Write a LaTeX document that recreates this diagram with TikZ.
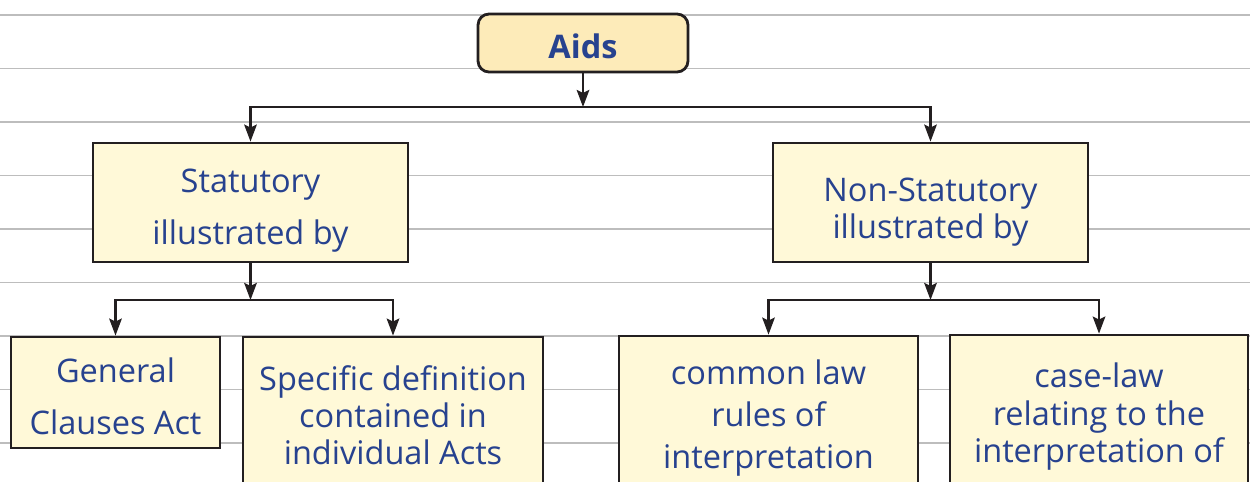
\documentclass[tikz,border=0pt]{standalone}
\usepackage{fontspec}
\setmainfont{Open Sans}
\usepackage{xcolor}
\usepackage{tikz}
\usetikzlibrary{arrows.meta,positioning}

\definecolor{inkblue}{HTML}{27428F}
\definecolor{boxline}{HTML}{231F20}
\definecolor{paleyellow}{HTML}{FFF9D8}
\definecolor{paleorange}{HTML}{FDEBB9}
\definecolor{rulegray}{HTML}{BDBDBD}

\newcommand{\lift}[1]{\rule{0pt}{#1}}

\begin{document}
\begin{tikzpicture}[x=0.02cm,y=-0.02cm,
	box/.style={draw=boxline,line width=1.6pt,fill=paleyellow,text=inkblue,align=center,inner sep=0pt},
	arr/.style={-{Stealth[length=0.34cm,width=0.25cm,inset=0.06cm]},line width=1.5pt,draw=boxline},
	rule/.style={draw=rulegray,line width=0.8pt}]
	\useasboundingbox (0,0) rectangle (1250,481);
	\clip (0,0) rectangle (1250,481);
	% ruled paper
	\foreach \i in {0,...,8}
		\draw[rule] (0,15+53.5*\i) -- (1250,15+53.5*\i);
	% boxes
	\node[box,fill=paleorange,rounded corners=0.22cm,minimum width=4.2cm,minimum height=1.16cm,
		font=\fontsize{18.5}{21}\selectfont\bfseries] (aids) at (583,43) {\lift{18pt}Aids};
	\node[box,minimum width=6.3cm,minimum height=2.38cm,font=\fontsize{18.5}{29.5}\selectfont]
		(stat) at (250.5,202.5) {\lift{22.5pt}Statutory\\illustrated by};
	\node[box,minimum width=6.3cm,minimum height=2.38cm,font=\fontsize{18.5}{21}\selectfont]
		(nonstat) at (930.5,202.5) {\lift{24pt}Non-Statutory\\illustrated by};
	\node[box,minimum width=4.18cm,minimum height=2.22cm,font=\fontsize{18.5}{29.5}\selectfont]
		(gca) at (115.5,392.5) {\lift{18pt}General\\Clauses Act};
	\node[box,minimum width=6cm,minimum height=3.12cm,font=\fontsize{18.5}{21.2}\selectfont]
		(specific) at (393,415) {Specific definition\\contained in\\individual Acts};
	\node[box,minimum width=5.98cm,minimum height=3.16cm,font=\fontsize{18.5}{24}\selectfont]
		(common) at (768.5,415) {\lift{17.5pt}common law\\rules of\\interpretation};
	\node[box,minimum width=5.96cm,minimum height=3.14cm,font=\fontsize{18.5}{21.3}\selectfont]
		(caselaw) at (1099,413.5) {\lift{18pt}case-law\\relating to the\\interpretation of};
	% connectors
	\coordinate (topbar) at (583,107);
	\coordinate (statbar) at (250.5,300);
	\coordinate (nonstatbar) at (930.5,300);
	\draw[arr] (aids) -- (topbar);
	\draw[arr] (topbar) -| (stat.north);
	\draw[arr] (topbar) -| (nonstat.north);
	\draw[arr] (stat) -- (statbar);
	\draw[arr] (statbar) -| (gca.north);
	\draw[arr] (statbar) -| (specific.north);
	\draw[arr] (nonstat) -- (nonstatbar);
	\draw[arr] (nonstatbar) -| (common.north);
	\draw[arr] (nonstatbar) -| (caselaw.north);
\end{tikzpicture}
\end{document}
